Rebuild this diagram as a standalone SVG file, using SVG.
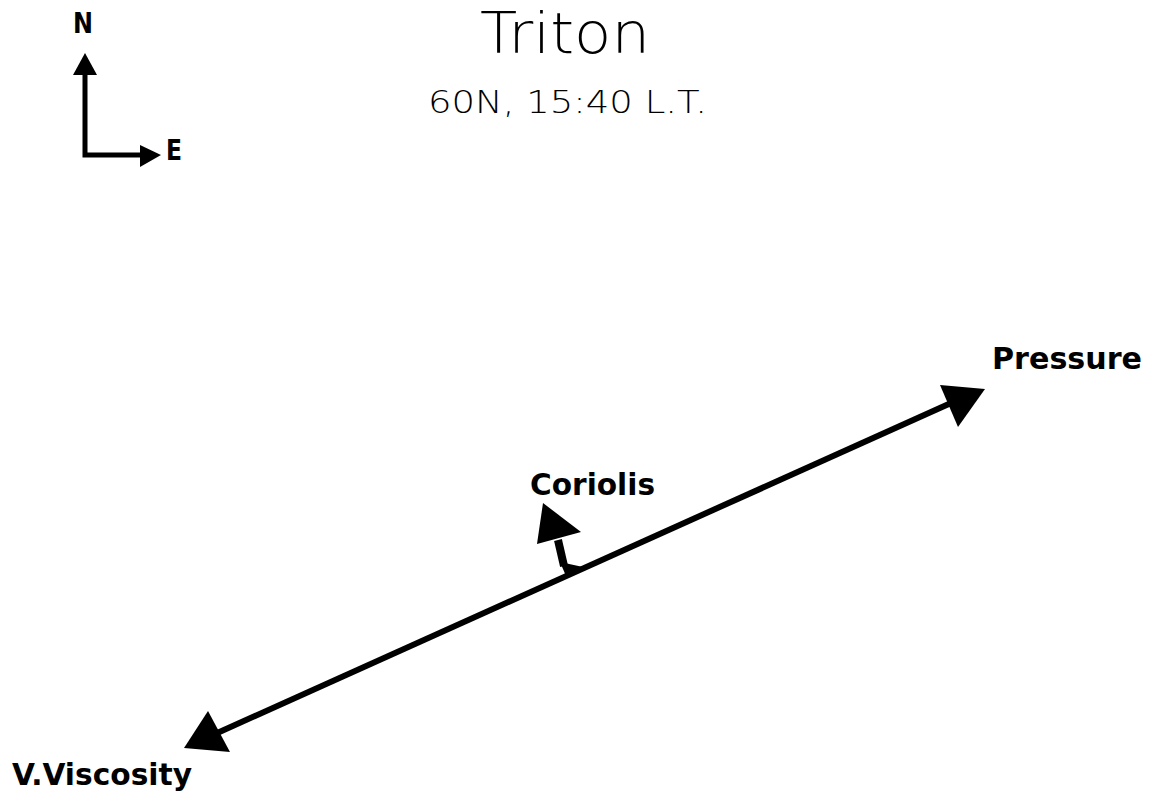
<svg xmlns="http://www.w3.org/2000/svg" width="1156" height="801" viewBox="0 0 1156 801">
<style>
.thin{font-family:"DejaVu Sans","Liberation Sans",sans-serif;font-weight:200;fill:#000}
.lbl{font-family:"DejaVu Sans","Liberation Sans",sans-serif;font-weight:bold;fill:#000}
.ln{stroke:#000;fill:none;stroke-linecap:butt}
.head{fill:#000;stroke:none}
</style>
<rect width="1156" height="801" fill="#fff"/>
<g id="title">
<text class="thin" x="480" y="53" font-size="57" textLength="170" lengthAdjust="spacingAndGlyphs">Triton</text>
<text class="thin" x="428" y="113" font-size="32" textLength="279" lengthAdjust="spacingAndGlyphs">60N, 15:40 L.T.</text>
</g>
<g id="compass">
<path class="ln" d="M85,74 V155 H142" stroke-width="5"/>
<polygon class="head" points="85,53 73,75 97,75"/>
<polygon class="head" points="161,155 140,145 140,167"/>
<text class="lbl" x="73" y="33" font-size="29" textLength="20" lengthAdjust="spacingAndGlyphs">N</text>
<text class="lbl" x="166" y="160" font-size="29" textLength="16" lengthAdjust="spacingAndGlyphs">E</text>
</g>
<g id="connectors">
<line class="ln" x1="215" y1="734" x2="951" y2="403" stroke-width="6"/>
<line class="ln" x1="564" y1="566" x2="558" y2="540" stroke-width="8"/>
</g>
<g id="pressure">
<polygon class="head" points="985,389 940,385 958,427"/>
<text class="lbl" x="992" y="369" font-size="31" textLength="150" lengthAdjust="spacingAndGlyphs">Pressure</text>
</g>
<g id="viscosity">
<polygon class="head" points="184,748 208,711 230,752"/>
<text class="lbl" x="12" y="785" font-size="31" textLength="180" lengthAdjust="spacingAndGlyphs">V.Viscosity</text>
</g>
<g id="coriolis">
<polygon class="head" points="543,503 537,544 581,532"/>
<polygon class="head" points="560,562 583,567 566,576"/>
<text class="lbl" x="530" y="495" font-size="30" textLength="125" lengthAdjust="spacingAndGlyphs">Coriolis</text>
</g>
</svg>
